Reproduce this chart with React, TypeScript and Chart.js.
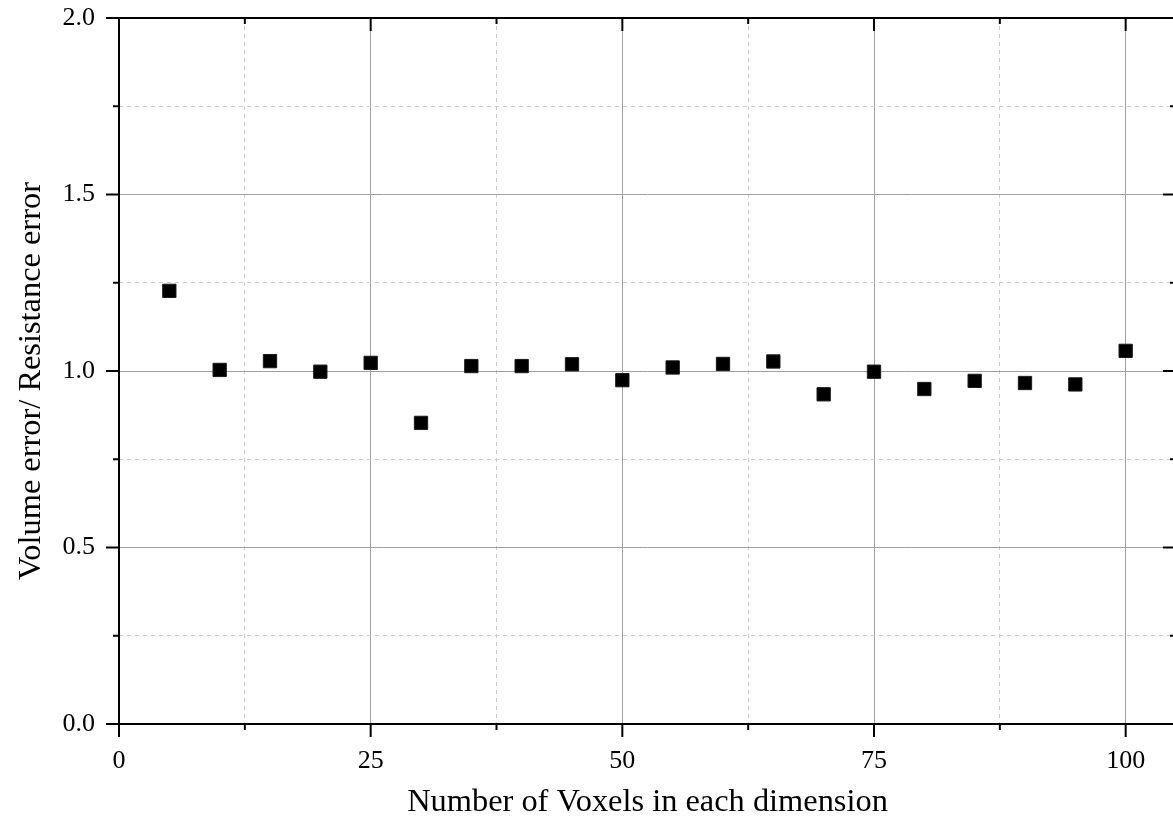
import { useEffect, useRef } from 'react';
import { Chart, registerables } from 'chart.js';

Chart.register(...registerables);

// Grid resolution (voxels per dimension) and measured error ratio
const voxels = [5, 10, 15, 20, 25, 30, 35, 40, 45, 50, 55, 60, 65, 70, 75, 80, 85, 90, 95, 100];
const errorRatio = [
  1.227, 1.003, 1.028, 0.998, 1.023, 0.853, 1.014, 1.014, 1.019, 0.974,
  1.01, 1.02, 1.027, 0.934, 0.998, 0.949, 0.972, 0.966, 0.962, 1.057,
];

const xMajorTicks = [0, 25, 50, 75, 100];
const yMajorTicks = [0, 0.5, 1.0, 1.5, 2.0];
const xTitle = 'Number of Voxels in each dimension';
const yTitle = 'Volume error/ Resistance error';

const FONT = '"Liberation Serif", "Times New Roman", serif';
const TITLE_SIZE = 32.4;

const near = (list: number[], v: number) => list.some((m) => Math.abs(m - v) < 1e-6);

// Keep the plot area fixed: no extra room reserved for overhanging tick labels
const clearPadding = (s: any) => {
  s.paddingTop = 0;
  s.paddingBottom = 0;
  s.paddingLeft = 0;
  s.paddingRight = 0;
};

// Boxed frame with outward ticks on left/bottom, inward on top/right, plus y title
const framePlugin = {
  id: 'frame',
  afterDraw(chart: any) {
    const { ctx, chartArea, scales } = chart;
    const { left, right, top, bottom } = chartArea;
    const xs = scales.x;
    const ys = scales.y;
    ctx.save();
    ctx.strokeStyle = '#000';
    ctx.lineWidth = 2;
    ctx.lineCap = 'butt';
    const seg = (x1: number, y1: number, x2: number, y2: number) => {
      ctx.beginPath();
      ctx.moveTo(x1, y1);
      ctx.lineTo(x2, y2);
      ctx.stroke();
    };
    const majorLen = 13;
    const minorLen = 6;
    xs.ticks.forEach((t: any) => {
      const v = t.value;
      if (Math.abs(v / 12.5 - Math.round(v / 12.5)) > 1e-6) return;
      const px = xs.getPixelForValue(v);
      const len = near(xMajorTicks, v) ? majorLen : minorLen;
      seg(px, bottom, px, bottom + len);
      seg(px, top, px, top + len);
    });
    ys.ticks.forEach((t: any) => {
      const v = t.value;
      const py = ys.getPixelForValue(v);
      const len = near(yMajorTicks, v) ? majorLen : minorLen;
      seg(left - len, py, left, py);
      seg(right - len, py, right, py);
    });
    ctx.strokeRect(left, top, right - left, bottom - top);

    ctx.fillStyle = '#000';
    ctx.font = `${TITLE_SIZE}px ${FONT}`;
    ctx.textAlign = 'center';
    ctx.textBaseline = 'middle';
    ctx.translate(31, (top + bottom) / 2 + 10);
    ctx.rotate(-Math.PI / 2);
    ctx.fillText(yTitle, 0, 0);
    ctx.restore();
  },
};

export default function App() {
  const canvasRef = useRef<HTMLCanvasElement | null>(null);

  useEffect(() => {
    const canvas = canvasRef.current;
    if (!canvas) return;
    const chart = new Chart(canvas, {
      type: 'scatter',
      data: {
        datasets: [
          {
            data: voxels.map((v, i) => ({ x: v, y: errorRatio[i] })),
            pointStyle: 'rect',
            pointRadius: 9.4,
            pointHoverRadius: 9.4,
            backgroundColor: '#000',
            borderColor: '#1a1a1a',
            borderWidth: 1,
            showLine: false,
          },
        ],
      },
      options: {
        responsive: false,
        animation: false,
        events: [],
        layout: { autoPadding: false, padding: { top: 18, right: 4, left: 0, bottom: 0 } },
        plugins: {
          legend: { display: false },
          tooltip: { enabled: false },
        },
        scales: {
          x: {
            type: 'linear',
            min: 0,
            max: 105,
            afterFit: (s: any) => {
              s.height = 102;
              clearPadding(s);
            },
            ticks: {
              stepSize: 12.5,
              includeBounds: false,
              autoSkip: false,
              maxRotation: 0,
              padding: 22,
              color: '#000',
              font: { family: FONT, size: 26 },
              callback: (v: any) => (near(xMajorTicks, Number(v)) ? String(v) : ''),
            },
            grid: {
              drawTicks: false,
              lineWidth: 1,
              color: (c: any) => (c.tick && near(xMajorTicks, c.tick.value) ? '#a0a0a0' : '#cdcdcd'),
            },
            border: {
              display: false,
              dash: (c: any) => (c.tick && !near(xMajorTicks, c.tick.value) ? [4, 4] : []),
            },
            title: {
              display: true,
              text: xTitle,
              color: '#000',
              font: { family: FONT, size: TITLE_SIZE },
              padding: { top: 0, bottom: 4 },
            },
          },
          y: {
            type: 'linear',
            min: 0,
            max: 2,
            afterFit: (s: any) => {
              s.width = 119;
              clearPadding(s);
            },
            ticks: {
              stepSize: 0.25,
              autoSkip: false,
              padding: 24,
              color: '#000',
              font: { family: FONT, size: 26 },
              callback: (v: any) => (near(yMajorTicks, Number(v)) ? Number(v).toFixed(1) : ''),
            },
            grid: {
              drawTicks: false,
              lineWidth: 1,
              color: (c: any) => (c.tick && near(yMajorTicks, c.tick.value) ? '#a0a0a0' : '#cdcdcd'),
            },
            border: {
              display: false,
              dash: (c: any) => (c.tick && !near(yMajorTicks, c.tick.value) ? [4, 4] : []),
            },
          },
        },
      },
      plugins: [framePlugin],
    });
    return () => chart.destroy();
  }, []);

  return (
    <div
      style={{
        position: 'fixed',
        left: 0,
        top: 0,
        width: 1173,
        height: 826,
        overflow: 'hidden',
        background: '#fff',
      }}
    >
      <canvas ref={canvasRef} width={1180} height={826} style={{ display: 'block' }} />
    </div>
  );
}
